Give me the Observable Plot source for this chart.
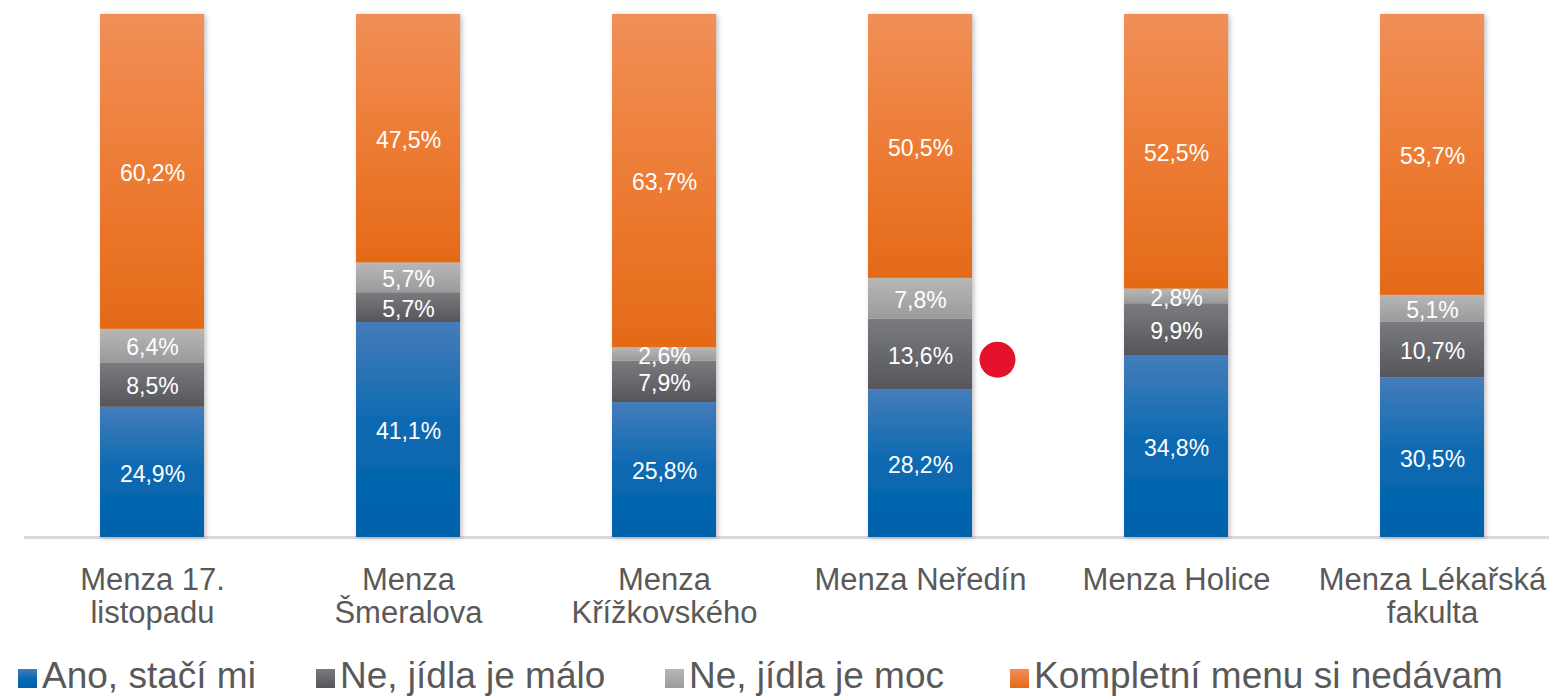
<!DOCTYPE html>
<html>
<head>
<meta charset="utf-8">
<script src="https://cdn.jsdelivr.net/npm/d3@7"></script>
<script src="https://cdn.jsdelivr.net/npm/@observablehq/plot@0.6"></script>
<style>
  html, body { margin: 0; padding: 0; background: #fff; }
  #wrap { width: 1549px; height: 697px; position: relative; overflow: hidden; font-family: "Liberation Sans", Arial, sans-serif; }
  #chart svg { display: block; }
  #legend { position: relative; height: 57px; width: 1549px; }
  .item { position: absolute; top: 0; height: 57px; }
  .sw { position: absolute; top: 29px; width: 19px; height: 19px; }
  .lt { position: absolute; left: 24px; top: 17px; font-size: 37px; line-height: 37px; color: #595959; white-space: nowrap; }
</style>
</head>
<body>
<div id="wrap">
  <div id="chart"></div>
  <div id="legend"></div>
</div>
<script>
// ---- data ----
const menzy = ["Menza 17. listopadu", "Menza Šmeralova", "Menza Křížkovského", "Menza Neředín", "Menza Holice", "Menza Lékařská fakulta"];
const axisLabels = ["Menza 17.\nlistopadu", "Menza\nŠmeralova", "Menza\nKřížkovského", "Menza Neředín", "Menza Holice", "Menza Lékařská\nfakulta"];
const series = ["Ano, stačí mi", "Ne, jídla je málo", "Ne, jídla je moc", "Kompletní menu si nedávam"];
const ano     = [24.9, 41.1, 25.8, 28.2, 34.8, 30.5];
const malo    = [8.5, 5.7, 7.9, 13.6, 9.9, 10.7];
const moc     = [6.4, 5.7, 2.6, 7.8, 2.8, 5.1];
const nedavam = [60.2, 47.5, 63.7, 50.5, 52.5, 53.7];
const marker  = [{menza: "Menza Neředín", share: 0.34}];

// ---- styles ----
const gradStops = [
  [["0", "#447cba"], ["0.5", "#0a69b1"], ["1", "#0062aa"]],
  [["0", "#7a7b7f"], ["1", "#55565a"]],
  [["0", "#b7b7b7"], ["1", "#9b9b9b"]],
  [["0", "#f18f57"], ["0.55", "#ec7a32"], ["1", "#e46a17"]]
];
const gradIds = series.map((s, i) => "grad" + i);

// ---- table ----
const columns = [ano, malo, moc, nedavam];
const rows = [];
menzy.forEach((m, i) => series.forEach((s, j) => rows.push({menza: m, series: s, value: columns[j][i]})));
const fmt = v => v.toFixed(1).replace(".", ",") + "%";
const labelOf = new Map(menzy.map((m, i) => [m, axisLabels[i]]));

const chart = Plot.plot({
  width: 1549,
  height: 640,
  marginTop: 14,
  marginBottom: 103,
  marginLeft: 24,
  marginRight: 0,
  style: {fontFamily: "\"Liberation Sans\", Arial, sans-serif", background: "transparent", overflow: "visible"},
  x: {domain: menzy, range: [24, 1560], paddingInner: 0.594, paddingOuter: 0.297},
  y: {domain: [0, 1], axis: null},
  color: {domain: series, range: gradIds.map(id => `url(#${id})`)},
  marks: [
    Plot.ruleY([0], {stroke: "#d9d9d9", strokeWidth: 3}),
    Plot.barY(rows, Plot.stackY({
      offset: "normalize", order: series,
      x: "menza", y: "value", z: "series", fill: "series", inset: 0
    })),
    Plot.text(rows, Plot.stackY({
      offset: "normalize", order: series,
      x: "menza", y: "value", z: "series", text: d => fmt(d.value),
      fill: "#ffffff", fontSize: 23, dy: 2
    })),
    Plot.dot(marker, {x: "menza", y: "share", r: 18, fill: "#e3112a", dx: 77}),
    Plot.axisX({
      tickSize: 0, tickPadding: 29, fontSize: 31, lineHeight: 1.07,
      tickFormat: d => labelOf.get(d), fill: "#595959", label: null
    })
  ]
});

// gradients
const ns = "http://www.w3.org/2000/svg";
const defs = document.createElementNS(ns, "defs");
gradStops.forEach((stops, i) => {
  const g = document.createElementNS(ns, "linearGradient");
  g.setAttribute("id", gradIds[i]);
  g.setAttribute("x1", "0"); g.setAttribute("y1", "0");
  g.setAttribute("x2", "0"); g.setAttribute("y2", "1");
  stops.forEach(([o, c]) => {
    const st = document.createElementNS(ns, "stop");
    st.setAttribute("offset", o);
    st.setAttribute("stop-color", c);
    g.appendChild(st);
  });
  defs.appendChild(g);
});
const f = document.createElementNS(ns, "filter");
f.setAttribute("id", "shadow");
f.setAttribute("x", "-20%"); f.setAttribute("width", "140%");
f.innerHTML = '<feDropShadow dx="2" dy="1" stdDeviation="2.5" flood-color="#000" flood-opacity="0.25"/>';
defs.appendChild(f);
chart.insertBefore(defs, chart.firstChild);
const barGroups = chart.querySelectorAll("g[aria-label='bar']");
barGroups.forEach(g => g.setAttribute("filter", "url(#shadow)"));

document.getElementById("chart").appendChild(chart);

// legend
const legendX = [18, 316, 665, 1010];
const legend = document.getElementById("legend");
series.forEach((s, i) => {
  const item = document.createElement("div");
  item.className = "item";
  item.style.left = legendX[i] + "px";
  const sw = document.createElement("div");
  sw.className = "sw";
  sw.style.background = `linear-gradient(${gradStops[i].map(([o, c]) => c + " " + (o * 100) + "%").join(", ")})`;
  const t = document.createElement("div");
  t.className = "lt";
  t.textContent = s;
  item.appendChild(sw);
  item.appendChild(t);
  legend.appendChild(item);
});
</script>
</body>
</html>
